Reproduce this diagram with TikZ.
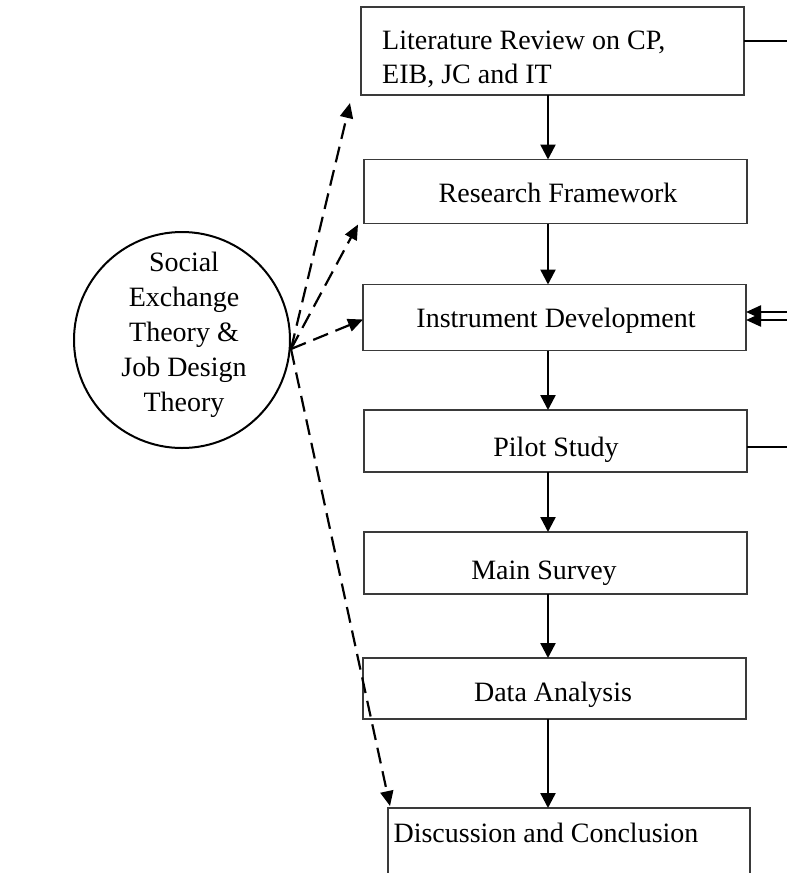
\documentclass[tikz,border=0pt]{standalone}
\usepackage{fontspec}
\setmainfont{Liberation Serif}
\usetikzlibrary{arrows.meta}
\definecolor{boxline}{HTML}{3A3A3A}
\begin{document}
\begin{tikzpicture}[x=1pt,y=-1pt,
  stepbox/.style={draw=boxline, line width=1.3pt, rectangle, inner sep=0pt, outer sep=0pt, minimum width=383pt},
  boxtext/.style={inner sep=0pt, font=\fontsize{28}{34}\selectfont},
  flow/.style={line width=2.4pt, -{Triangle[length=15pt,width=15pt]}},
  link/.style={line width=2.4pt},
  feed/.style={line width=2.2pt, -{Triangle[length=15pt,width=13pt]}},
  theory/.style={line width=2.2pt, dash pattern=on 16pt off 8pt, -{Triangle[length=15pt,width=13pt]}},
]
\clip (0,0) rectangle (787,873);

% process steps
\node[stepbox, minimum height=88pt]  (lit)   at (552.5,51) {};
\node[stepbox, minimum height=64pt]  (res)   at (555.5,191.5) {};
\node[stepbox, minimum height=66pt]  (inst)  at (554.5,317.5) {};
\node[stepbox, minimum height=62pt]  (pilot) at (555.5,441) {};
\node[stepbox, minimum height=62pt]  (main)  at (555.5,563) {};
\node[stepbox, minimum height=61pt]  (data)  at (554.5,688.5) {};
\node[stepbox, minimum width=362pt, minimum height=100pt] (disc) at (569,858) {};

% step labels
\node[boxtext, anchor=north west, align=left] (litT) at (382,31)
  {Literature Review on CP,\\EIB, JC and IT};
\node[boxtext, anchor=base] (resT)   at (558,202) {Research Framework};
\node[boxtext, anchor=base] (instT)  at (556,327) {Instrument Development};
\node[boxtext, anchor=base] (pilotT) at (556,456) {Pilot Study};
\node[boxtext, anchor=base] (mainT)  at (544,579) {Main Survey};
\node[boxtext, anchor=base] (dataT)  at (553,701) {Data Analysis};
\node[boxtext, anchor=base] (discT)  at (546,842) {Discussion and Conclusion};

% underpinning theories
\node[circle, draw, line width=2pt, minimum size=216pt, inner sep=0pt] (circ) at (182,340) {};
\node[inner sep=0pt, align=center, font=\fontsize{28}{35}\selectfont] (circT) at (184,334.5)
  {Social\\Exchange\\Theory \&\\Job Design\\Theory};

% main flow
\coordinate (ax) at (548,0);
\draw[flow] (lit.south -| ax)   -- (res.north -| ax);
\draw[flow] (res.south -| ax)   -- (inst.north -| ax);
\draw[flow] (inst.south -| ax)  -- (pilot.north -| ax);
\draw[flow] (pilot.south -| ax) -- (main.north -| ax);
\draw[flow] (main.south -| ax)  -- (data.north -| ax);
\draw[flow] (data.south -| ax)  -- (disc.north -| ax);

% links leaving on the right
\coordinate (litout)   at (800,41);
\coordinate (pilotout) at (800,447);
\coordinate (fbA) at (800,312);
\coordinate (fbB) at (800,320);
\draw[link] (litout -| lit.east) -- (litout);
\draw[link] (pilotout -| pilot.east) -- (pilotout);
\draw[feed] (fbA) -- (fbA -| inst.east);
\draw[feed] (fbB) -- (fbB -| inst.east);

% theory links
\coordinate (hub) at ([yshift=-9pt]circ.east);
\draw[theory] (hub) -- ([shift={(-11pt,-8pt)}]lit.south west);
\draw[theory] (hub) -- ([shift={(-6pt,-1pt)}]res.south west);
\draw[theory] (hub) -- ([yshift=-2pt]inst.west);
\draw[theory] (hub) -- ([shift={(2pt,2pt)}]disc.north west);
\end{tikzpicture}
\end{document}
